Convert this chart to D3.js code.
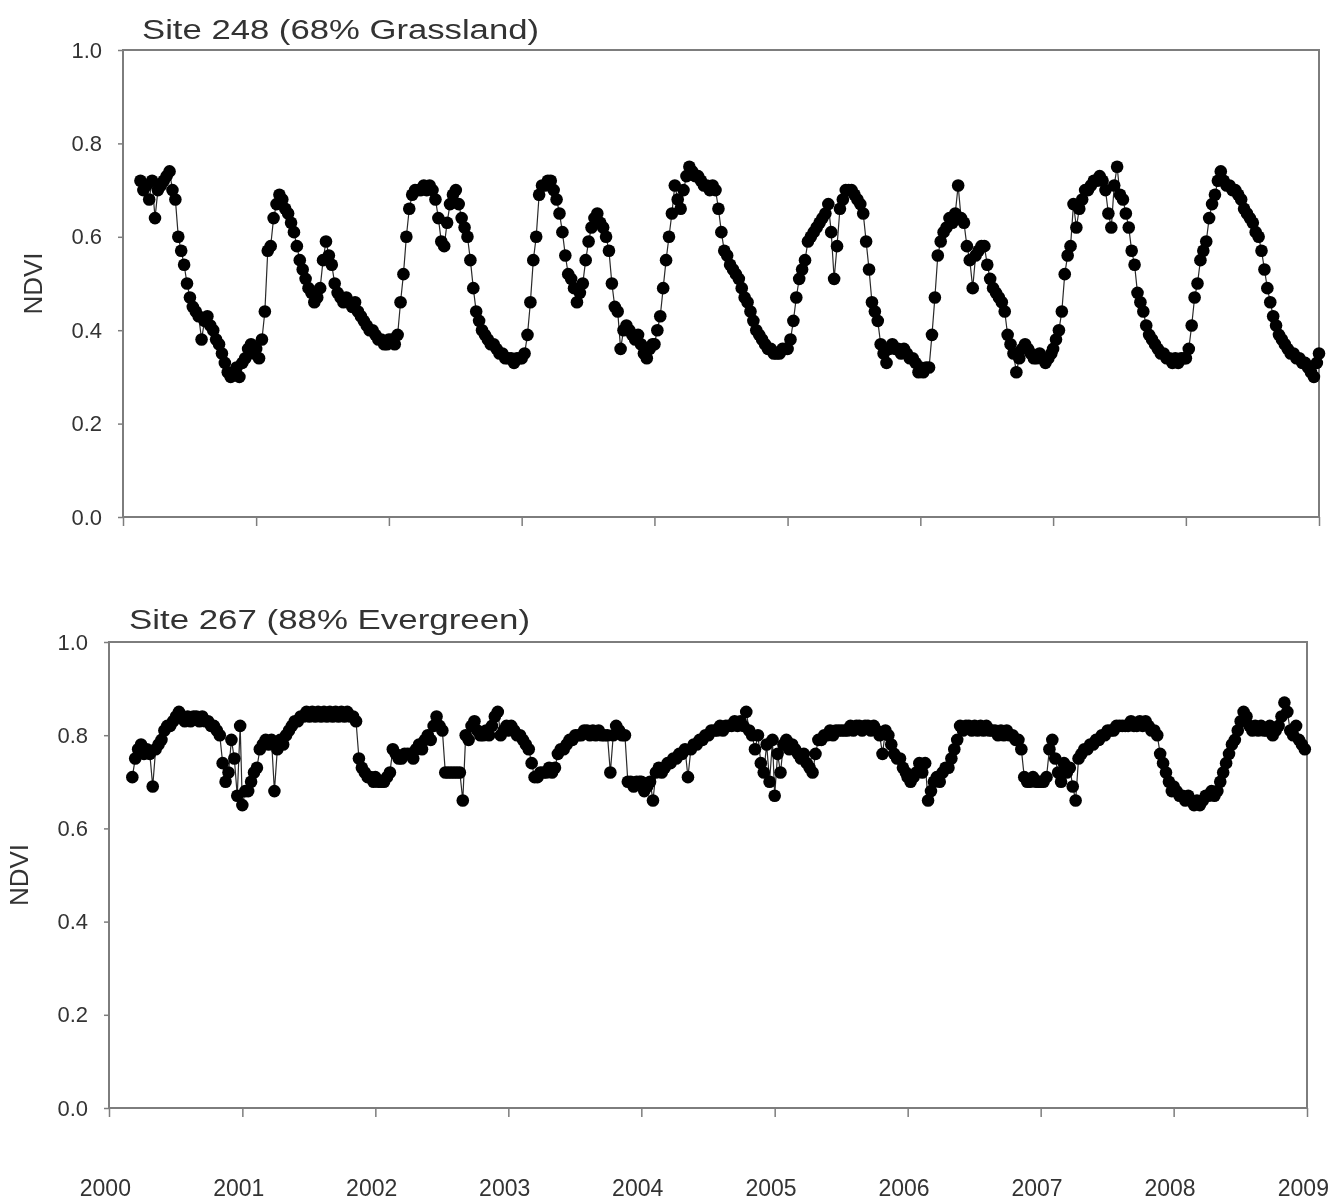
<!DOCTYPE html>
<html>
<head>
<meta charset="utf-8">
<script src="https://cdn.jsdelivr.net/npm/d3@7"></script>
<style>
  html, body { margin: 0; padding: 0; background: #fff; }
  svg { display: block; filter: blur(0.55px); }
  text { font-family: Arial, "Liberation Sans", Helvetica, sans-serif; fill: #333; }
</style>
</head>
<body>
<svg id="chart" width="1337" height="1204"></svg>
<script>
// 8-day composite start days (day of year)
const compositeDoy = [1, 9, 17, 25, 33, 41, 49, 57, 65, 73, 81, 89, 97, 105, 113, 121, 129, 137, 145, 153, 161, 169, 177, 185,
  193, 201, 209, 217, 225, 233, 241, 249, 257, 265, 273, 281, 289, 297, 305, 313, 321, 329, 337, 345, 353, 361];

const yearLabels = ["2000", "2001", "2002", "2003", "2004", "2005", "2006", "2007", "2008", "2009"];
const ndviTicks = [0, 0.2, 0.4, 0.6, 0.8, 1.0];

// Site 248 (68% Grassland) NDVI, one array per year; 2000 starts at day 49
const grass2000 = [0.72, 0.70, 0.71, 0.68, 0.72, 0.64, 0.70, 0.71, 0.72, 0.73, 0.74, 0.70, 0.68, 0.60, 0.57, 0.54, 0.50, 0.47, 0.45, 0.44,
  0.43, 0.38, 0.42, 0.43, 0.41, 0.40, 0.38, 0.37, 0.35, 0.33, 0.31, 0.30, 0.31, 0.32, 0.30, 0.33, 0.34, 0.36, 0.37, 0.35];
const grass2001 = [0.36, 0.34, 0.38, 0.44, 0.57, 0.58, 0.64, 0.67, 0.69, 0.68, 0.66, 0.65, 0.63, 0.61, 0.58, 0.55, 0.53, 0.51, 0.49, 0.48,
  0.46, 0.47, 0.49, 0.55, 0.59, 0.56, 0.54, 0.50, 0.48, 0.47, 0.46, 0.47, 0.46, 0.45, 0.46, 0.44, 0.43, 0.42, 0.41, 0.40,
  0.40, 0.39, 0.38, 0.38, 0.37, 0.37];
const grass2002 = [0.38, 0.38, 0.37, 0.39, 0.46, 0.52, 0.60, 0.66, 0.69, 0.70, 0.70, 0.70, 0.71, 0.70, 0.71, 0.70, 0.68, 0.64, 0.59, 0.58,
  0.63, 0.67, 0.69, 0.70, 0.67, 0.64, 0.62, 0.60, 0.55, 0.49, 0.44, 0.42, 0.40, 0.39, 0.38, 0.37, 0.37, 0.36, 0.35, 0.35,
  0.34, 0.34, 0.34, 0.33, 0.34, 0.34];
const grass2003 = [0.34, 0.35, 0.39, 0.46, 0.55, 0.60, 0.69, 0.71, 0.71, 0.72, 0.72, 0.70, 0.68, 0.65, 0.61, 0.56, 0.52, 0.51, 0.49, 0.46,
  0.48, 0.50, 0.55, 0.59, 0.62, 0.64, 0.65, 0.63, 0.62, 0.60, 0.57, 0.50, 0.45, 0.44, 0.36, 0.40, 0.41, 0.40, 0.39, 0.38,
  0.39, 0.37, 0.35, 0.34, 0.36, 0.37];
const grass2004 = [0.37, 0.40, 0.43, 0.49, 0.55, 0.60, 0.65, 0.71, 0.68, 0.66, 0.70, 0.73, 0.75, 0.74, 0.73, 0.73, 0.72, 0.71, 0.71, 0.70,
  0.71, 0.70, 0.66, 0.61, 0.57, 0.56, 0.54, 0.53, 0.52, 0.51, 0.49, 0.47, 0.46, 0.44, 0.42, 0.40, 0.39, 0.38, 0.37, 0.36,
  0.36, 0.35, 0.35, 0.35, 0.36, 0.36];
const grass2005 = [0.36, 0.38, 0.42, 0.47, 0.51, 0.53, 0.55, 0.59, 0.60, 0.61, 0.62, 0.63, 0.64, 0.65, 0.67, 0.61, 0.51, 0.58, 0.66, 0.68,
  0.70, 0.70, 0.70, 0.69, 0.68, 0.67, 0.65, 0.59, 0.53, 0.46, 0.44, 0.42, 0.37, 0.35, 0.33, 0.36, 0.37, 0.36, 0.36, 0.35,
  0.36, 0.35, 0.34, 0.34, 0.33, 0.31];
const grass2006 = [0.32, 0.31, 0.32, 0.32, 0.39, 0.47, 0.56, 0.59, 0.61, 0.62, 0.64, 0.63, 0.65, 0.71, 0.64, 0.63, 0.58, 0.55, 0.49, 0.56,
  0.57, 0.58, 0.58, 0.54, 0.51, 0.49, 0.48, 0.47, 0.46, 0.44, 0.39, 0.37, 0.35, 0.31, 0.34, 0.36, 0.37, 0.36, 0.35, 0.34,
  0.34, 0.35, 0.34, 0.33, 0.34, 0.35];
const grass2007 = [0.36, 0.38, 0.40, 0.44, 0.52, 0.56, 0.58, 0.67, 0.62, 0.66, 0.68, 0.70, 0.70, 0.71, 0.72, 0.72, 0.73, 0.72, 0.70, 0.65,
  0.62, 0.71, 0.75, 0.69, 0.68, 0.65, 0.62, 0.57, 0.54, 0.48, 0.46, 0.44, 0.41, 0.39, 0.38, 0.37, 0.36, 0.35, 0.35, 0.34,
  0.34, 0.33, 0.34, 0.33, 0.34, 0.34];
const grass2008 = [0.34, 0.36, 0.41, 0.47, 0.50, 0.55, 0.57, 0.59, 0.64, 0.67, 0.69, 0.72, 0.74, 0.72, 0.71, 0.71, 0.70, 0.70, 0.69, 0.68,
  0.66, 0.65, 0.64, 0.63, 0.61, 0.60, 0.57, 0.53, 0.49, 0.46, 0.43, 0.41, 0.39, 0.38, 0.37, 0.36, 0.35, 0.35, 0.34, 0.34,
  0.33, 0.33, 0.32, 0.31, 0.30, 0.33];
const grass2009 = [0.35];

// Site 267 (88% Evergreen) NDVI, one array per year; 2000 starts at day 65
const evergreen2000 = [0.71, 0.75, 0.77, 0.78, 0.76, 0.77, 0.76, 0.69, 0.77, 0.78, 0.79, 0.81, 0.82, 0.82, 0.83, 0.84, 0.85, 0.84, 0.83, 0.84,
  0.83, 0.84, 0.84, 0.83, 0.84, 0.83, 0.83, 0.82, 0.82, 0.81, 0.80, 0.74, 0.70, 0.72, 0.79, 0.75, 0.67, 0.82];
const evergreen2001 = [0.65, 0.68, 0.68, 0.70, 0.72, 0.73, 0.77, 0.78, 0.79, 0.78, 0.79, 0.68, 0.77, 0.79, 0.78, 0.80, 0.81, 0.82, 0.83, 0.83,
  0.84, 0.84, 0.85, 0.84, 0.85, 0.84, 0.85, 0.84, 0.85, 0.84, 0.85, 0.84, 0.85, 0.84, 0.85, 0.84, 0.85, 0.84, 0.84, 0.83,
  0.75, 0.73, 0.72, 0.71, 0.71, 0.70];
const evergreen2002 = [0.71, 0.70, 0.70, 0.70, 0.71, 0.72, 0.77, 0.76, 0.75, 0.75, 0.76, 0.76, 0.76, 0.75, 0.77, 0.78, 0.77, 0.79, 0.80, 0.79,
  0.82, 0.84, 0.82, 0.81, 0.72, 0.72, 0.72, 0.72, 0.72, 0.72, 0.66, 0.80, 0.79, 0.82, 0.83, 0.81, 0.80, 0.80, 0.81, 0.80,
  0.82, 0.84, 0.85, 0.80, 0.81, 0.82];
const evergreen2003 = [0.81, 0.82, 0.81, 0.80, 0.80, 0.79, 0.78, 0.77, 0.74, 0.71, 0.71, 0.72, 0.72, 0.72, 0.73, 0.72, 0.73, 0.76, 0.77, 0.77,
  0.78, 0.79, 0.79, 0.80, 0.80, 0.80, 0.81, 0.81, 0.80, 0.81, 0.80, 0.81, 0.80, 0.80, 0.80, 0.72, 0.80, 0.82, 0.81, 0.80,
  0.80, 0.70, 0.70, 0.69, 0.70, 0.70];
const evergreen2004 = [0.70, 0.68, 0.69, 0.70, 0.66, 0.72, 0.73, 0.72, 0.73, 0.74, 0.74, 0.75, 0.75, 0.76, 0.76, 0.77, 0.71, 0.77, 0.78, 0.78,
  0.79, 0.79, 0.80, 0.80, 0.81, 0.81, 0.81, 0.82, 0.81, 0.82, 0.82, 0.82, 0.83, 0.82, 0.83, 0.82, 0.85, 0.81, 0.80, 0.77,
  0.80, 0.74, 0.72, 0.78, 0.70, 0.79];
const evergreen2005 = [0.67, 0.76, 0.72, 0.78, 0.79, 0.77, 0.78, 0.77, 0.76, 0.75, 0.76, 0.74, 0.73, 0.72, 0.76, 0.79, 0.79, 0.80, 0.80, 0.81,
  0.80, 0.81, 0.81, 0.81, 0.81, 0.81, 0.82, 0.81, 0.82, 0.82, 0.81, 0.82, 0.82, 0.81, 0.82, 0.81, 0.80, 0.76, 0.81, 0.80,
  0.78, 0.76, 0.75, 0.75, 0.73, 0.72];
const evergreen2006 = [0.71, 0.70, 0.71, 0.72, 0.74, 0.72, 0.74, 0.66, 0.68, 0.70, 0.71, 0.70, 0.72, 0.73, 0.73, 0.75, 0.77, 0.79, 0.82, 0.81,
  0.82, 0.82, 0.81, 0.82, 0.81, 0.82, 0.81, 0.82, 0.81, 0.81, 0.81, 0.80, 0.81, 0.80, 0.81, 0.80, 0.80, 0.79, 0.79, 0.77,
  0.71, 0.70, 0.70, 0.71, 0.70, 0.70];
const evergreen2007 = [0.70, 0.70, 0.71, 0.77, 0.79, 0.75, 0.72, 0.70, 0.74, 0.72, 0.73, 0.69, 0.66, 0.75, 0.76, 0.77, 0.77, 0.78, 0.78, 0.79,
  0.79, 0.80, 0.80, 0.81, 0.81, 0.81, 0.82, 0.82, 0.82, 0.82, 0.82, 0.83, 0.82, 0.82, 0.83, 0.82, 0.83, 0.82, 0.81, 0.81,
  0.80, 0.76, 0.74, 0.72, 0.70, 0.68];
const evergreen2008 = [0.69, 0.68, 0.67, 0.67, 0.66, 0.67, 0.66, 0.65, 0.66, 0.65, 0.66, 0.67, 0.67, 0.68, 0.67, 0.68, 0.70, 0.72, 0.74, 0.76,
  0.78, 0.79, 0.81, 0.83, 0.85, 0.84, 0.82, 0.81, 0.82, 0.81, 0.82, 0.81, 0.81, 0.82, 0.80, 0.81, 0.82, 0.84, 0.87, 0.85,
  0.81, 0.80, 0.82, 0.79, 0.78, 0.77];

// [year, values, index of first composite]
const grassYears = [
  [2000, grass2000, 6], [2001, grass2001, 0], [2002, grass2002, 0], [2003, grass2003, 0], [2004, grass2004, 0],
  [2005, grass2005, 0], [2006, grass2006, 0], [2007, grass2007, 0], [2008, grass2008, 0], [2009, grass2009, 0]
];
const evergreenYears = [
  [2000, evergreen2000, 8], [2001, evergreen2001, 0], [2002, evergreen2002, 0], [2003, evergreen2003, 0], [2004, evergreen2004, 0],
  [2005, evergreen2005, 0], [2006, evergreen2006, 0], [2007, evergreen2007, 0], [2008, evergreen2008, 0]
];

function toSeries(years) {
  const out = [];
  years.forEach(([yr, vals, first]) => {
    vals.forEach((v, i) => {
      const doy = compositeDoy[first + i];
      out.push({ date: new Date(yr, 0, doy), v: v });
    });
  });
  return out;
}

const panels = [
  { title: "Site 248 (68% Grassland)", data: toSeries(grassYears),
    left: 123, right: 1319, top: 50, bottom: 517,
    titleX: 142, titleY: 39, titleLen: 397, yTitleX: 33, showYears: false },
  { title: "Site 267 (88% Evergreen)", data: toSeries(evergreenYears),
    left: 109, right: 1307, top: 642, bottom: 1108,
    titleX: 129, titleY: 629, titleLen: 401, yTitleX: 19, showYears: true }
];

const svg = d3.select("#chart");
const axisGrey = "#7d7d7d";

panels.forEach(p => {
  const x = d3.scaleTime()
    .domain([new Date(2000, 0, 1), new Date(2009, 0, 1)])
    .range([p.left, p.right]);
  const y = d3.scaleLinear().domain([0, 1]).range([p.bottom, p.top]);

  const g = svg.append("g");

  // plot frame
  g.append("rect")
    .attr("x", p.left).attr("y", p.top)
    .attr("width", p.right - p.left).attr("height", p.bottom - p.top)
    .attr("fill", "none").attr("stroke", axisGrey).attr("stroke-width", 2);

  // y axis
  const yAxis = d3.axisLeft(y).tickValues(ndviTicks).tickFormat(d3.format(".1f"))
    .tickSize(5).tickPadding(16).tickSizeOuter(0);
  const ya = g.append("g").attr("transform", `translate(${p.left},0)`).call(yAxis);
  ya.select(".domain").remove();
  ya.selectAll(".tick line").attr("stroke", axisGrey).attr("stroke-width", 1.5);
  ya.selectAll(".tick text").attr("font-size", 22).attr("fill", "#3a3a3a")
    .style("font-family", "Arial, 'Liberation Sans', sans-serif");

  // x axis (years)
  const xAxis = d3.axisBottom(x).ticks(d3.timeYear.every(1)).tickSizeOuter(0).tickSize(9);
  if (p.showYears) {
    xAxis.tickFormat((d, i) => yearLabels[i]).tickPadding(63);
  } else {
    xAxis.tickFormat("");
  }
  const xa = g.append("g").attr("transform", `translate(0,${p.bottom})`).call(xAxis);
  xa.select(".domain").remove();
  xa.selectAll(".tick line").attr("stroke", axisGrey).attr("stroke-width", 1.5);
  xa.selectAll(".tick text").attr("font-size", 23).attr("fill", "#222").attr("dx", "-0.18em")
    .style("font-family", "Arial, 'Liberation Sans', sans-serif");

  // panel title
  g.append("text")
    .attr("x", p.titleX).attr("y", p.titleY)
    .attr("font-size", 27)
    .attr("textLength", p.titleLen).attr("lengthAdjust", "spacingAndGlyphs")
    .attr("fill", "#333")
    .text(p.title);

  // y axis title
  g.append("text")
    .attr("transform", `translate(${p.yTitleX},${(p.top + p.bottom) / 2}) rotate(-90)`)
    .attr("text-anchor", "middle").attr("dy", "0.36em")
    .attr("font-size", 26).attr("fill", "#2a2a2a")
    .text("NDVI");

  // connecting line
  const line = d3.line().x(d => x(d.date)).y(d => y(d.v));
  g.append("path").datum(p.data)
    .attr("d", line).attr("fill", "none")
    .attr("stroke", "#2a2a2a").attr("stroke-width", 1.2);

  // markers
  g.append("g").selectAll("circle").data(p.data).join("circle")
    .attr("cx", d => x(d.date)).attr("cy", d => y(d.v))
    .attr("r", 6.3).attr("fill", "#000");
});
</script>
</body>
</html>
